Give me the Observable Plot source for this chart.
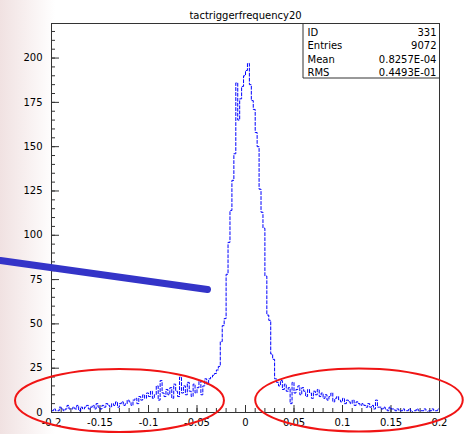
<!DOCTYPE html>
<html><head><meta charset="utf-8">
<script src="https://cdn.jsdelivr.net/npm/d3@7"></script>
<script src="https://cdn.jsdelivr.net/npm/@observablehq/plot@0.6"></script>
<style>
body{margin:0;background:#fff;}
#wrap{position:relative;width:464px;height:434px;}
#bg{position:absolute;left:0;top:0;width:55px;height:434px;background:linear-gradient(to right, rgba(226,196,196,0.5), rgba(255,255,255,0));}
#chart{position:absolute;left:0;top:0;}
</style></head><body><div id="wrap"><div id="bg"></div><div id="chart"></div></div><script>
const histTitle = "tactriggerfrequency20";
const binLow = -0.2, binWidth = 0.002;
const counts = [
  1,2,1,1,3,2,1,2,4,2,
  2,3,2,4,1,3,2,3,4,2,
  3,4,2,5,3,2,4,3,5,4,
  3,5,4,6,3,5,6,4,5,7,
  6,4,7,8,5,9,7,10,8,11,
  9,12,8,10,15,7,18,11,9,13,
  10,14,8,16,12,9,20,11,15,10,
  17,12,9,16,11,14,18,10,15,19,
  16,19,20,21,22,24,26,40,49,53,
  78,96,114,131,146,186,165,177,184,190,
  193,197,185,176,171,158,150,126,113,104,
  77,55,52,33,30,19,17,15,18,13,
  16,12,14,5,17,11,13,15,10,14,
  12,9,13,11,8,12,10,13,9,11,
  8,10,7,9,11,6,8,9,7,6,
  8,5,7,6,5,7,4,6,5,4,
  5,4,3,5,3,4,2,7,3,3,
  2,3,2,1,3,2,2,1,2,1,
  1,2,1,1,2,1,0,1,2,1,
  1,1,2,0,1,1,2,1,1,2
];
const statsLabels = ["ID","Entries","Mean","RMS"];
const statsValues = ["331","9072","0.8257E-04","0.4493E-01"];
const xTicks = [-0.2,-0.15,-0.1,-0.05,0,0.05,0.1,0.15,0.2];
const xTickLabels = ["-0.2","-0.15","-0.1","-0.05","0","0.05","0.1","0.15","0.2"];
const yTicks = [0,25,50,75,100,125,150,175,200];
const yTickLabels = ["0","25","50","75","100","125","150","175","200"];
const yMax = 219.5;
const annotationLine = [{x:-0.2526,y:85.8},{x:-0.0392,y:69.4}];
const ellipses = [{cx:-0.1294,cy:6.5,rx:0.1077,ry:17.8},{cx:0.1175,cy:6.8,rx:0.107,ry:17.8}];

const W=464,H=434,mL=51,mR=25,mT=23,mB=22;
const fw=W-mL-mR, fh=H-mT-mB;
const xMinor = d3.range(0,41).map(i=>-0.2+i*0.01);
const yMinor = d3.range(0,44).map(i=>i*5);
const pts = counts.map((c,i)=>({x:binLow+i*binWidth,y:c}));
pts.push({x:binLow+counts.length*binWidth,y:counts[counts.length-1]});
const ax = "#333";
const marks = [
  Plot.ruleX(xMinor,{x:d=>d,insetTop:fh-4,stroke:ax}),
  Plot.ruleX(xTicks,{x:d=>d,insetTop:fh-7,stroke:ax}),
  Plot.ruleY(yMinor,{y:d=>d,insetRight:fw-4,stroke:ax}),
  Plot.ruleY(yTicks,{y:d=>d,insetRight:fw-8,stroke:ax}),
  Plot.line(pts,{x:"x",y:"y",curve:"step-after",stroke:"#0000ff",strokeWidth:1,strokeDasharray:"3,2"}),
  Plot.frame({stroke:ax}),
  Plot.text([histTitle],{frameAnchor:"top",dy:-5,lineAnchor:"bottom",text:d=>d}),
  Plot.line(annotationLine,{x:"x",y:"y",stroke:"#3434c8",strokeWidth:7})
];
statsLabels.forEach((l,i)=>{
  marks.push(Plot.text([l],{frameAnchor:"top-right",dx:-132,dy:9+13.4*i,textAnchor:"start",lineAnchor:"middle",text:d=>d}));
  marks.push(Plot.text([statsValues[i]],{frameAnchor:"top-right",dx:-3,dy:9+13.4*i,textAnchor:"end",lineAnchor:"middle",text:d=>d}));
});
const plot = Plot.plot({
  width:W,height:H,marginLeft:mL,marginRight:mR,marginTop:mT,marginBottom:mB,
  style:{background:"transparent",fontFamily:"DejaVu Sans",fontSize:"10px",color:"#000"},
  x:{domain:[-0.2,0.2],ticks:xTicks,tickFormat:d=>xTickLabels[xTicks.indexOf(d)],tickSize:0,tickPadding:6,label:null},
  y:{domain:[0,yMax],ticks:yTicks,tickFormat:d=>yTickLabels[yTicks.indexOf(d)],tickSize:0,tickPadding:9,label:null},
  marks
});
const xs=plot.scale("x"), ys=plot.scale("y");
const svg=d3.select(plot);
svg.append("path").attr("d",`M${W-mR-136},${mT}V${mT+55}H${W-mR}`).attr("fill","none").attr("stroke",ax);
ellipses.forEach(e=>{
  svg.append("ellipse")
    .attr("cx",xs.apply(e.cx)).attr("cy",ys.apply(e.cy))
    .attr("rx",Math.abs(xs.apply(e.cx+e.rx)-xs.apply(e.cx)))
    .attr("ry",Math.abs(ys.apply(e.cy+e.ry)-ys.apply(e.cy)))
    .attr("fill","none").attr("stroke","#f01414").attr("stroke-width",2);
});
document.getElementById("chart").appendChild(plot);
</script></body></html>
